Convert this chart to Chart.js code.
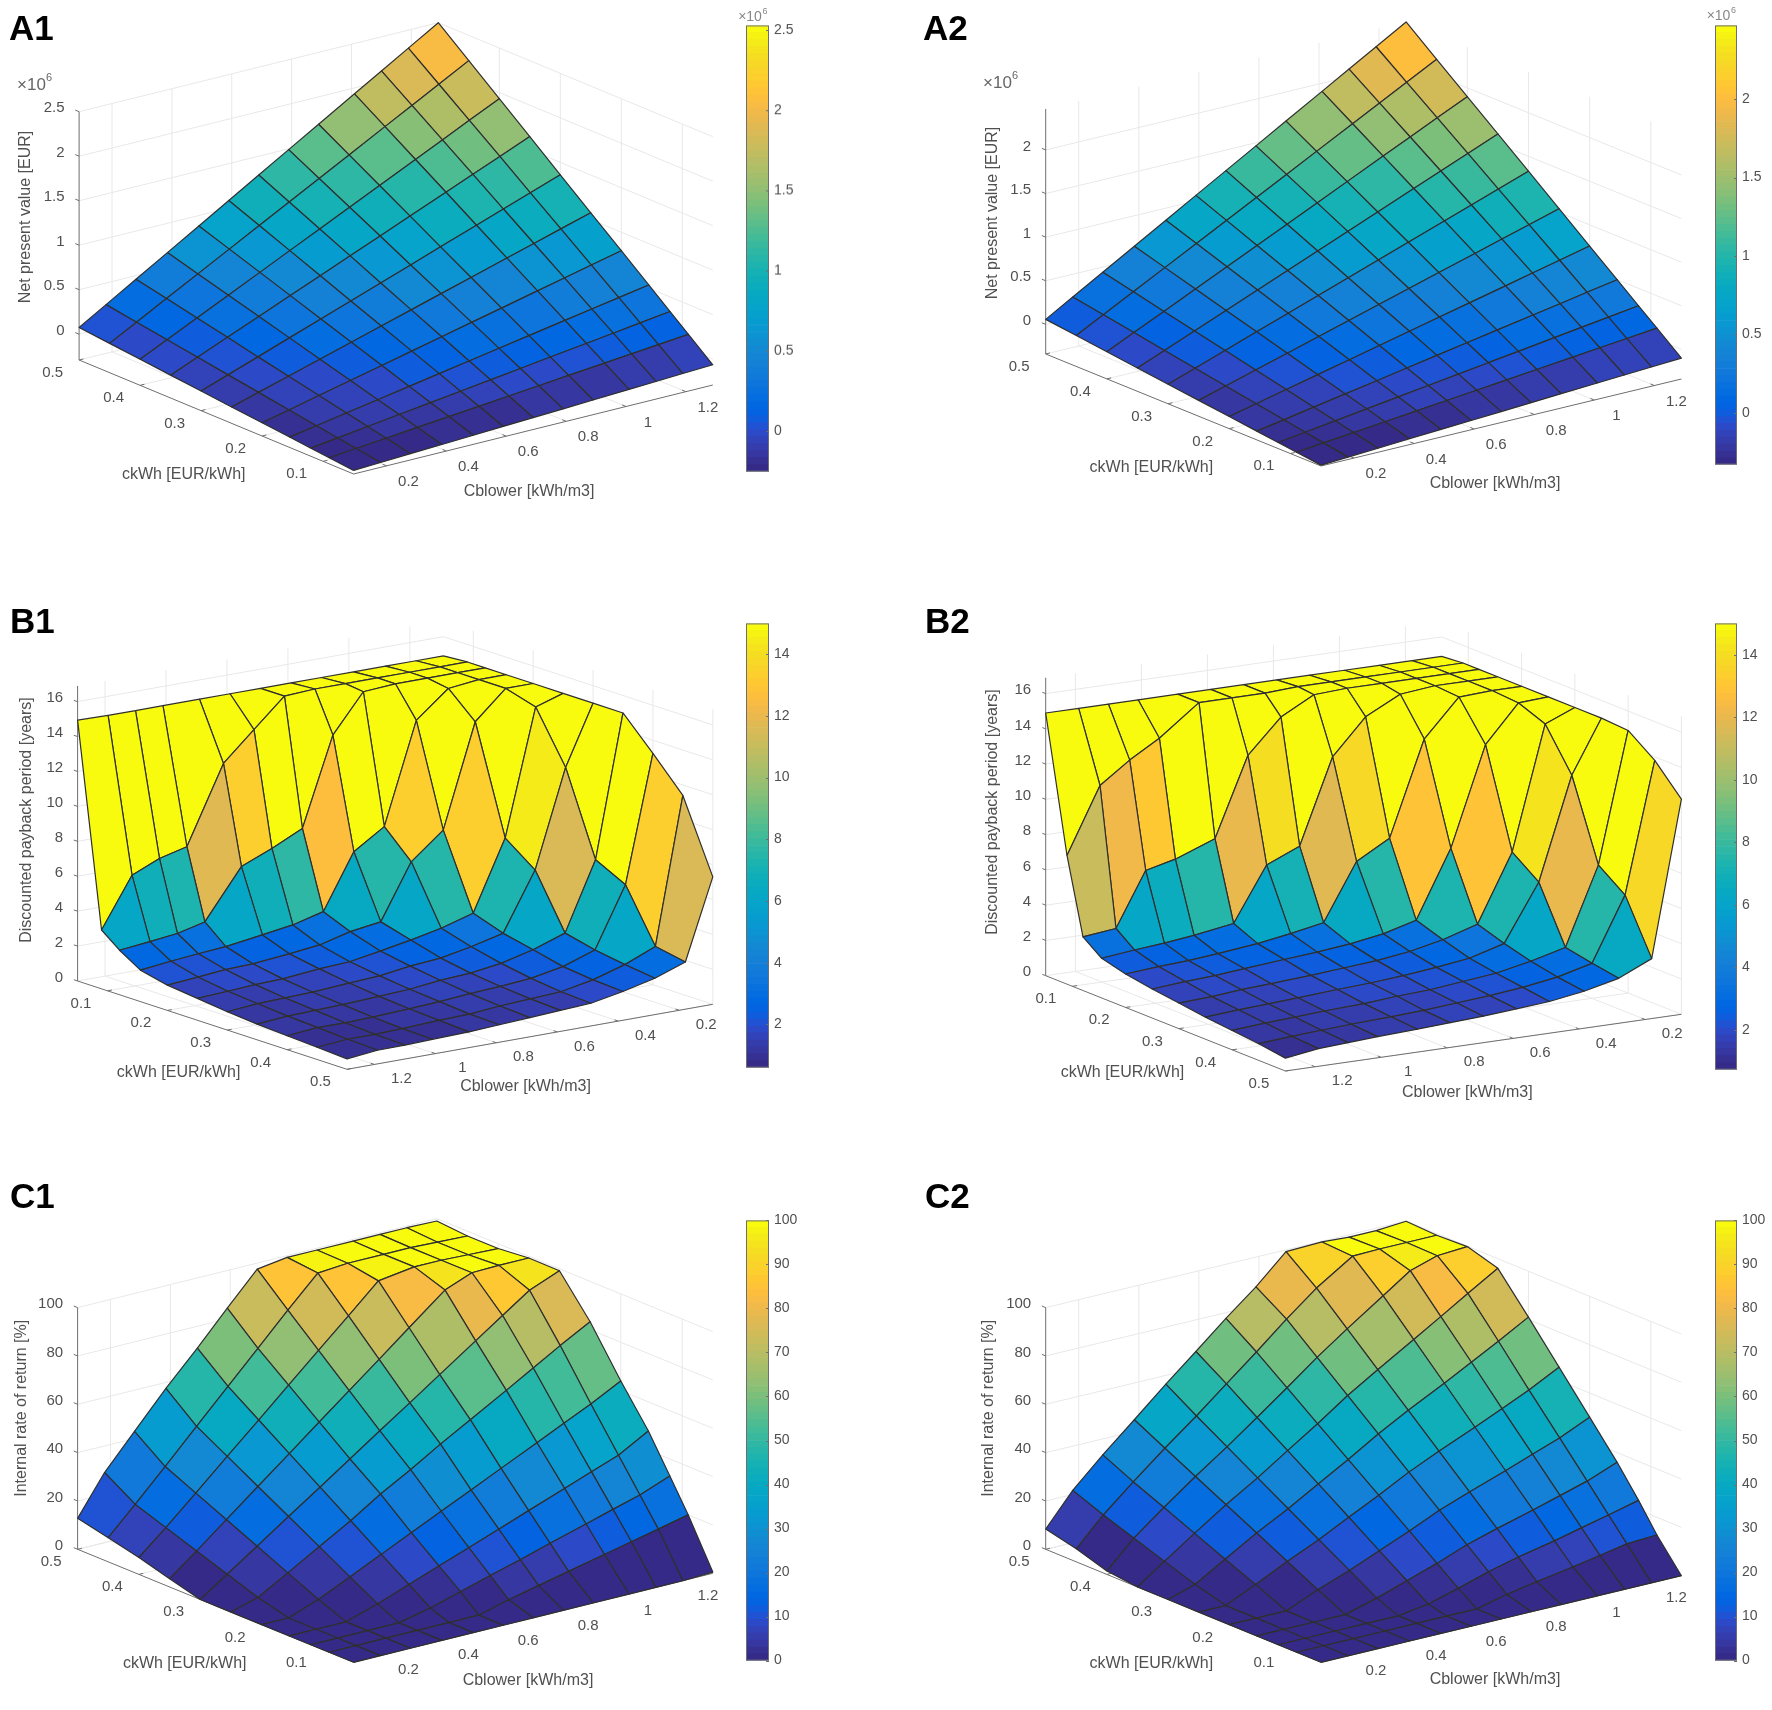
<!DOCTYPE html>
<html>
<head>
<meta charset="utf-8">
<title>Surface plots</title>
<script src="https://cdn.jsdelivr.net/npm/chart.js@4"></script>
<style>
  html, body { margin: 0; padding: 0; background: #fff; }
  #page { position: relative; width: 1772px; height: 1710px; overflow: hidden; }
  canvas { position: absolute; }
</style>
</head>
<body>
<div id="page"></div>
<script>
// grid of the surfaces
const ckWh = [0.05, 0.09, 0.12, 0.155, 0.2, 0.25, 0.3, 0.35, 0.4, 0.45, 0.5];
const cblower = [0.09, 0.18, 0.28, 0.385, 0.49, 0.59, 0.69, 0.79, 0.89, 1.01, 1.1, 1.19, 1.29];
const ckWhTicks = [0.1, 0.2, 0.3, 0.4, 0.5];
const cblowerTicks = [0.2, 0.4, 0.6, 0.8, 1, 1.2];

// net present value, x10^6 EUR. one row per ckWh, one column per cblower
const npvA1 = [
  [-0.25, -0.236, -0.22, -0.204, -0.188, -0.172, -0.156, -0.141, -0.125, -0.106, -0.092, -0.078, -0.063],
  [-0.221, -0.192, -0.16, -0.126, -0.092, -0.06, -0.028, 0.004, 0.037, 0.075, 0.104, 0.133, 0.165],
  [-0.199, -0.159, -0.114, -0.067, -0.021, 0.024, 0.069, 0.113, 0.158, 0.211, 0.251, 0.292, 0.336],
  [-0.174, -0.121, -0.062, 0, 0.062, 0.122, 0.181, 0.24, 0.299, 0.37, 0.423, 0.476, 0.535],
  [-0.142, -0.072, 0.006, 0.088, 0.169, 0.247, 0.325, 0.403, 0.48, 0.574, 0.644, 0.714, 0.792],
  [-0.106, -0.017, 0.081, 0.185, 0.288, 0.387, 0.485, 0.584, 0.682, 0.8, 0.889, 0.978, 1.076],
  [-0.07, 0.037, 0.156, 0.282, 0.407, 0.526, 0.645, 0.764, 0.884, 1.027, 1.134, 1.241, 1.36],
  [-0.033, 0.093, 0.233, 0.38, 0.527, 0.667, 0.807, 0.947, 1.087, 1.255, 1.381, 1.507, 1.647],
  [0.003, 0.148, 0.308, 0.477, 0.646, 0.807, 0.967, 1.128, 1.289, 1.481, 1.626, 1.771, 1.931],
  [0.039, 0.202, 0.384, 0.574, 0.765, 0.946, 1.127, 1.309, 1.49, 1.708, 1.871, 2.034, 2.216],
  [0.075, 0.257, 0.459, 0.671, 0.883, 1.086, 1.288, 1.49, 1.692, 1.934, 2.116, 2.298, 2.5]
];
const npvA2 = [
  [-0.33, -0.313, -0.294, -0.273, -0.253, -0.234, -0.215, -0.196, -0.176, -0.153, -0.136, -0.119, -0.1],
  [-0.296, -0.264, -0.229, -0.192, -0.154, -0.119, -0.084, -0.048, -0.013, 0.03, 0.062, 0.093, 0.129],
  [-0.27, -0.227, -0.18, -0.13, -0.08, -0.033, 0.015, 0.063, 0.11, 0.167, 0.21, 0.253, 0.3],
  [-0.24, -0.185, -0.123, -0.058, 0.006, 0.068, 0.13, 0.191, 0.253, 0.327, 0.382, 0.438, 0.499],
  [-0.201, -0.129, -0.049, 0.034, 0.118, 0.198, 0.278, 0.358, 0.437, 0.533, 0.605, 0.677, 0.757],
  [-0.158, -0.068, 0.032, 0.137, 0.242, 0.342, 0.442, 0.542, 0.642, 0.762, 0.852, 0.942, 1.042],
  [-0.115, -0.007, 0.114, 0.24, 0.366, 0.487, 0.607, 0.727, 0.847, 0.992, 1.1, 1.208, 1.329],
  [-0.072, 0.054, 0.195, 0.342, 0.49, 0.631, 0.771, 0.912, 1.052, 1.221, 1.347, 1.474, 1.614],
  [-0.029, 0.116, 0.276, 0.445, 0.614, 0.775, 0.935, 1.096, 1.257, 1.45, 1.594, 1.739, 1.899],
  [0.014, 0.177, 0.358, 0.548, 0.738, 0.919, 1.099, 1.28, 1.461, 1.678, 1.841, 2.004, 2.185],
  [0.057, 0.238, 0.439, 0.65, 0.861, 1.063, 1.264, 1.465, 1.666, 1.907, 2.088, 2.269, 2.47]
];

// discounted payback period, years
const paybackB1 = [
  [14.9, 14.9, 14.9, 14.9, 14.9, 14.9, 14.9, 14.9, 14.9, 14.9, 14.9, 14.9, 14.94],
  [15, 15, 15, 15, 15, 15, 14.9, 13.3, 11.67, 7.27, 6.88, 6.2, 3.37],
  [15, 15, 15, 15, 14.87, 12.7, 7.66, 6.83, 6.1, 3.3, 2.92, 2.73, 2.55],
  [15, 15, 14.8, 13.3, 7.54, 6.41, 3.29, 2.84, 2.58, 2.28, 2.15, 2, 1.8],
  [15, 15, 13.4, 7.52, 6.03, 2.9, 2.65, 2.2, 2, 1.8, 1.75, 1.6, 1.45],
  [15, 14.5, 7.3, 3.32, 2.79, 2.42, 2.1, 1.8, 1.7, 1.5, 1.45, 1.35, 1.25],
  [15, 11.6, 6.03, 2.73, 2.29, 1.95, 1.8, 1.55, 1.45, 1.3, 1.25, 1.2, 1.05],
  [15, 6.87, 2.98, 2.35, 1.9, 1.65, 1.55, 1.35, 1.25, 1.15, 1.1, 1.05, 0.9],
  [13.25, 6, 2.58, 1.95, 1.6, 1.45, 1.35, 1.2, 1.1, 1, 0.95, 0.95, 0.8],
  [11.4, 3.03, 2.3, 1.75, 1.4, 1.3, 1.2, 1.05, 1, 0.9, 0.85, 0.85, 0.7],
  [7.3, 2.7, 2.08, 1.65, 1.3, 1.2, 1.1, 1, 0.9, 0.85, 0.8, 0.78, 0.6]
];
const paybackB2 = [
  [14.9, 14.9, 14.9, 14.9, 14.9, 14.9, 14.9, 14.9, 14.9, 14.9, 14.9, 14.9, 14.9],
  [15, 15, 15, 15, 15, 15, 14.9, 14.9, 14.9, 13.2, 12.2, 11, 7.3],
  [15, 15, 15, 15, 15, 14.9, 13.9, 12, 7.54, 6.7, 6.3, 3.25, 3.04],
  [15, 15, 15, 14.8, 13.8, 11.8, 7, 6.2, 3.15, 2.8, 2.6, 2.45, 2.25],
  [15, 15, 14.9, 12.8, 7.45, 6.4, 3.2, 2.85, 2.55, 2.3, 2.15, 2.05, 1.9],
  [15, 14.9, 12.8, 7.2, 3.4, 2.9, 2.6, 2.4, 2.25, 2.05, 1.9, 1.8, 1.65],
  [15, 14.3, 7.3, 3.5, 2.9, 2.5, 2.25, 2.1, 1.95, 1.8, 1.7, 1.55, 1.45],
  [15, 12, 6.2, 3, 2.45, 2.2, 2, 1.85, 1.75, 1.6, 1.5, 1.4, 1.25],
  [14.9, 7.5, 3.1, 2.6, 2.2, 2, 1.8, 1.7, 1.55, 1.45, 1.35, 1.25, 1.1],
  [13.8, 6.4, 2.8, 2.3, 2, 1.8, 1.65, 1.5, 1.4, 1.3, 1.2, 1.1, 0.95],
  [12.2, 3.4, 2.55, 2.1, 1.8, 1.65, 1.5, 1.4, 1.3, 1.2, 1.1, 1, 0.73]
];

// internal rate of return, %
const irrC1 = [
  [0, 0, 0, 0, 0, 0, 0, 0, 0, 0, 0, 0, 0.5],
  [0, 0, 0, 0, 0, 0, 3.3, 6.1, 8.9, 12.2, 14.7, 17.2, 20],
  [0, 0, 0, 0, 2.9, 6.6, 10.2, 13.7, 17.4, 21.7, 25, 28.2, 33],
  [0, 0, 0, 4.2, 9, 13.6, 18.1, 22.7, 27.3, 32.8, 36.9, 41, 48],
  [0, 0, 4.6, 10.7, 16.8, 22.7, 28.5, 34.2, 40.1, 47, 52.3, 57.5, 64],
  [0, 3.3, 10.4, 18, 25.5, 33.5, 40.5, 48, 55, 63.5, 70, 76.5, 83.3],
  [0, 7.7, 16.2, 25.3, 34.2, 42.8, 51.4, 59.9, 68.5, 78.8, 86.5, 94.2, 99.2],
  [3.4, 12.1, 22, 32.5, 42.9, 52.9, 62.8, 72.7, 82.7, 94.6, 99, 99.3, 99.3],
  [7, 16.6, 27.8, 39.8, 51.6, 63, 74.3, 85.5, 96.9, 99, 99, 98.5, 98],
  [10, 21, 33.6, 47, 60.3, 73, 85.7, 98, 99, 99, 99, 98.5, 98],
  [12.8, 29, 43, 57.5, 71, 84.4, 97.5, 99.3, 99.3, 99.3, 99.3, 99.3, 99]
];
const irrC2 = [
  [0, 0, 0, 0, 0, 0, 0, 0, 0, 0, 0, 0, 0],
  [0, 0, 0, 0, 0, 0, 0, 3, 5.3, 7.8, 9.9, 12, 12.7],
  [0, 0, 0, 0, 0, 1.9, 5.4, 9.3, 12.4, 15.5, 18.2, 20.8, 23.9],
  [0, 0, 0, 0, 3.7, 7.9, 12.1, 16.8, 20.5, 24.6, 27.9, 31.2, 36],
  [0, 0, 0, 5.6, 10.5, 15.6, 20.8, 26.4, 31, 36.2, 40.3, 44.4, 50],
  [0, 0, 5.7, 12.1, 18, 24.3, 30.4, 37, 42.7, 49, 54, 59, 65.5],
  [0, 3.5, 11, 18.7, 25.6, 32.9, 40, 47.6, 54.4, 62, 68, 74, 81],
  [0, 7.9, 16.5, 25.2, 33.2, 41.5, 49.6, 58.3, 66, 74.9, 81.7, 88.6, 96],
  [1.4, 12.3, 22, 31.7, 40.8, 50, 59.3, 68.9, 77.7, 87.8, 95.5, 99, 99.8],
  [5.4, 16.7, 27.4, 38.2, 48.4, 58.7, 68.9, 79.5, 89.4, 99, 99.3, 99.3, 99.3],
  [8.4, 21.7, 33.4, 44.8, 56.4, 66.9, 77.6, 87.7, 99.3, 99.7, 99, 99, 99.9]
];

const npvTicksA1 = [0, 0.5, 1, 1.5, 2, 2.5];
const npvTicksA2 = [0, 0.5, 1, 1.5, 2];
const paybackAxisTicks = [0, 2, 4, 6, 8, 10, 12, 14, 16];
const paybackBarTicks = [2, 4, 6, 8, 10, 12, 14];
const irrAxisTicks = [0, 20, 40, 60, 80, 100];
const irrBarTicks = [0, 10, 20, 30, 40, 50, 60, 70, 80, 90, 100];

// MATLAB parula, 64 levels
const parula = [
  [.2081,.1663,.5292],[.2116,.1898,.5777],[.2123,.2138,.6270],[.2081,.2386,.6771],[.1959,.2645,.7279],[.1707,.2919,.7792],
  [.1253,.3242,.8303],[.0591,.3598,.8683],[.0117,.3875,.8820],[.0060,.4086,.8828],[.0165,.4266,.8786],[.0329,.4430,.8720],
  [.0498,.4586,.8641],[.0629,.4737,.8554],[.0723,.4887,.8467],[.0779,.5040,.8384],[.0793,.5200,.8312],[.0749,.5375,.8263],
  [.0641,.5570,.8240],[.0488,.5772,.8228],[.0343,.5966,.8199],[.0265,.6137,.8135],[.0239,.6287,.8038],[.0231,.6418,.7913],
  [.0228,.6535,.7768],[.0267,.6642,.7607],[.0384,.6743,.7436],[.0590,.6838,.7254],[.0843,.6928,.7062],[.1133,.7015,.6859],
  [.1453,.7098,.6646],[.1801,.7177,.6424],[.2178,.7250,.6193],[.2586,.7317,.5954],[.3022,.7376,.5712],[.3482,.7424,.5473],
  [.3953,.7459,.5244],[.4420,.7481,.5033],[.4871,.7491,.4840],[.5300,.7491,.4661],[.5709,.7485,.4494],[.6099,.7473,.4337],
  [.6473,.7456,.4188],[.6834,.7435,.4044],[.7184,.7411,.3905],[.7525,.7384,.3768],[.7858,.7356,.3633],[.8185,.7327,.3498],
  [.8507,.7299,.3360],[.8824,.7274,.3217],[.9139,.7258,.3063],[.9450,.7261,.2886],[.9739,.7314,.2666],[.9938,.7455,.2403],
  [.9990,.7653,.2164],[.9955,.7861,.1967],[.9880,.8066,.1794],[.9789,.8271,.1633],[.9697,.8481,.1475],[.9626,.8705,.1309],
  [.9589,.8949,.1132],[.9598,.9218,.0948],[.9661,.9514,.0755],[.9763,.9831,.0538]
];

const FONT = '"Liberation Sans", Arial, sans-serif';
const TEXT = '#505050';
const AXIS = '#6e6e6e';
const GRID = '#e8e8e8';
const EDGE = '#2f2f2f';

const npvLabel = 'Net present value [EUR]';
const paybackLabel = 'Discounted payback period [years]';
const irrLabel = 'Internal rate of return [%]';

// box = canvas area, left/front/right = floor corners of the 3d box on the page
const panels = [
  { name: 'A1', nameAt: [9, 40], box: [0, 0, 790, 520], flipped: false, z: npvA1, zTicks: npvTicksA1, zName: npvLabel,
    left: [79.1, 360], front: [353.6, 474], right: [712.8, 385], zMin: -0.29, zTop: 2.5, zPx: 89,
    zNameAt: [25.5, 217], cNameAt: [183.7, 475], bNameAt: [529, 491.7], expAt: [31.5, 85], barExpAt: [750, 16.7],
    bar: [746.4, 24, 22.5, 448.7], barRange: [-0.254, 2.527], barTicks: npvTicksA1 },
  { name: 'A2', nameAt: [923, 40], box: [890, 0, 860, 520], flipped: false, z: npvA2, zTicks: npvTicksA2, zName: npvLabel,
    left: [1045.7, 354], front: [1321, 466], right: [1681.4, 379], zMin: -0.34, zTop: 2.47, zPx: 87.2,
    zNameAt: [992.9, 213], cNameAt: [1151.4, 467.3], bNameAt: [1495, 483.3], expAt: [997.5, 83.3], barExpAt: [1718.5, 15.7],
    bar: [1714.8, 24, 21.2, 442], barRange: [-0.33, 2.47], barTicks: npvTicksA2 },
  { name: 'B1', nameAt: [10, 633], box: [0, 590, 790, 520], flipped: true, z: paybackB1, zTicks: paybackAxisTicks, zName: paybackLabel,
    left: [77.6, 981], front: [347, 1069.3], right: [712.8, 1004.3], zMin: 0, zTop: 16.9, zPx: 17.46,
    zNameAt: [26.5, 820], cNameAt: [178.6, 1073], bNameAt: [525.5, 1086.7],
    bar: [746.4, 621.7, 22.5, 447.6], barRange: [0.6, 15], barTicks: paybackBarTicks },
  { name: 'B2', nameAt: [925, 633], box: [890, 590, 860, 520], flipped: true, z: paybackB2, zTicks: paybackAxisTicks, zName: paybackLabel,
    left: [1045.7, 975.7], front: [1285.4, 1071], right: [1681.4, 1014.3], zMin: 0, zTop: 16.9, zPx: 17.63,
    zNameAt: [992.9, 812], cNameAt: [1122.5, 1072.3], bNameAt: [1467.3, 1092.7],
    bar: [1714.8, 621.7, 21.2, 449.3], barRange: [0.73, 15], barTicks: paybackBarTicks },
  { name: 'C1', nameAt: [10, 1208], box: [0, 1180, 790, 530], flipped: false, z: irrC1, zTicks: irrAxisTicks, zName: irrLabel,
    left: [77.6, 1549.3], front: [353.6, 1662.3], right: [712.8, 1573.3], zMin: 0, zTop: 100, zPx: 2.417,
    zNameAt: [21.4, 1408.3], cNameAt: [184.7, 1664], bNameAt: [528, 1680.7],
    bar: [746.4, 1219.3, 22.5, 443], barRange: [0, 100], barTicks: irrBarTicks },
  { name: 'C2', nameAt: [925, 1208], box: [890, 1180, 860, 530], flipped: false, z: irrC2, zTicks: irrAxisTicks, zName: irrLabel,
    left: [1045.7, 1549.3], front: [1321, 1662.3], right: [1681.4, 1575.7], zMin: 0, zTop: 100, zPx: 2.417,
    zNameAt: [989, 1408.3], cNameAt: [1151.4, 1664], bNameAt: [1495, 1680],
    bar: [1714.8, 1219.3, 21.2, 443], barRange: [0, 100], barTicks: irrBarTicks }
];

const page = document.getElementById('page');

function addCanvas(x, y, w, h) {
  const c = document.createElement('canvas');
  c.width = w;
  c.height = h;
  c.style.left = x + 'px';
  c.style.top = y + 'px';
  c.style.width = w + 'px';
  c.style.height = h + 'px';
  page.appendChild(c);
  return c;
}

function colorOf(v, range) {
  let k = Math.floor((v - range[0]) / (range[1] - range[0]) * parula.length);
  k = Math.max(0, Math.min(parula.length - 1, k));
  const p = parula[k];
  return 'rgb(' + Math.round(p[0] * 255) + ',' + Math.round(p[1] * 255) + ',' + Math.round(p[2] * 255) + ')';
}

// orthographic view, worked out from the three floor corners
function makeProjection(p) {
  const cMin = ckWh[0], cMax = ckWh[ckWh.length - 1];
  const bMin = cblower[0], bMax = cblower[cblower.length - 1];
  const cF = p.flipped ? cMax : cMin;
  const bF = p.flipped ? bMax : bMin;
  const vc = [(p.front[0] - p.left[0]) / (cF - (p.flipped ? cMin : cMax)), (p.front[1] - p.left[1]) / (cF - (p.flipped ? cMin : cMax))];
  const vb = [(p.front[0] - p.right[0]) / (bF - (p.flipped ? bMin : bMax)), (p.front[1] - p.right[1]) / (bF - (p.flipped ? bMin : bMax))];
  return function (c, b, z) {
    return {
      x: p.front[0] + (c - cF) * vc[0] + (b - bF) * vb[0],
      y: p.front[1] + (c - cF) * vc[1] + (b - bF) * vb[1] - (z - p.zMin) * p.zPx
    };
  };
}

function lineSet(a, b, color) {
  return { data: [a, b], showLine: true, borderColor: color, borderWidth: 1, pointRadius: 0, fill: false, clip: false };
}

function surfaceSets(p, project) {
  const sets = [];
  const rows = ckWh.length - 1, cols = cblower.length - 1;
  // back to front
  for (let a = 0; a < rows; a++) {
    for (let b = 0; b < cols; b++) {
      const i = p.flipped ? a : rows - 1 - a;
      const j = p.flipped ? b : cols - 1 - b;
      const pts = [
        project(ckWh[i], cblower[j], p.z[i][j]),
        project(ckWh[i + 1], cblower[j], p.z[i + 1][j]),
        project(ckWh[i + 1], cblower[j + 1], p.z[i + 1][j + 1]),
        project(ckWh[i], cblower[j + 1], p.z[i][j + 1]),
        project(ckWh[i], cblower[j], p.z[i][j])
      ];
      sets.push({
        data: pts, showLine: true, fill: 'shape', tension: 0,
        backgroundColor: colorOf(p.z[i][j], p.barRange),
        borderColor: EDGE, borderWidth: 1.2, borderJoinStyle: 'round', pointRadius: 0, clip: false
      });
    }
  }
  return sets;
}

function boxSets(p, project) {
  const sets = [];
  const cMin = ckWh[0], cMax = ckWh[ckWh.length - 1];
  const bMin = cblower[0], bMax = cblower[cblower.length - 1];
  const cBack = p.flipped ? cMin : cMax, cFront = p.flipped ? cMax : cMin;
  const bBack = p.flipped ? bMin : bMax, bFront = p.flipped ? bMax : bMin;

  // grid on the walls and the floor
  p.zTicks.forEach(z => {
    sets.push(lineSet(project(cBack, bFront, z), project(cBack, bBack, z), GRID));
    sets.push(lineSet(project(cBack, bBack, z), project(cFront, bBack, z), GRID));
  });
  cblowerTicks.forEach(b => {
    sets.push(lineSet(project(cBack, b, p.zMin), project(cBack, b, p.zTop), GRID));
    sets.push(lineSet(project(cFront, b, p.zMin), project(cBack, b, p.zMin), GRID));
  });
  ckWhTicks.forEach(c => {
    sets.push(lineSet(project(c, bBack, p.zMin), project(c, bBack, p.zTop), GRID));
    sets.push(lineSet(project(c, bFront, p.zMin), project(c, bBack, p.zMin), GRID));
  });

  // axes and their ticks
  sets.push(lineSet(project(cBack, bFront, p.zMin), project(cFront, bFront, p.zMin), AXIS));
  sets.push(lineSet(project(cFront, bFront, p.zMin), project(cFront, bBack, p.zMin), AXIS));
  sets.push(lineSet(project(cBack, bFront, p.zMin), project(cBack, bFront, p.zTop), AXIS));
  const db = (bBack - bFront) * 0.012, dc = (cBack - cFront) * 0.014;
  ckWhTicks.forEach(c => sets.push(lineSet(project(c, bFront, p.zMin), project(c, bFront + db, p.zMin), AXIS)));
  cblowerTicks.forEach(b => sets.push(lineSet(project(cFront, b, p.zMin), project(cFront + dc, b, p.zMin), AXIS)));
  p.zTicks.forEach(z => sets.push(lineSet(project(cBack, bFront, z), project(cBack + dc, bFront, z), AXIS)));
  return sets;
}

const panelText = {
  id: 'panelText',
  afterDraw(chart, args, opts) {
    const p = opts.panel, project = opts.project, ctx = chart.ctx;
    const px = chart.scales.x, py = chart.scales.y;
    const put = (s, x, y, font, align) => {
      ctx.font = font;
      ctx.textAlign = align || 'center';
      ctx.fillText(s, px.getPixelForValue(x), py.getPixelForValue(y));
    };
    const cBack = p.flipped ? ckWh[0] : ckWh[ckWh.length - 1];
    const cFront = p.flipped ? ckWh[ckWh.length - 1] : ckWh[0];
    const bFront = p.flipped ? cblower[cblower.length - 1] : cblower[0];
    const tickFont = '15px ' + FONT;
    const nameFont = '16px ' + FONT;

    ctx.save();
    ctx.textBaseline = 'middle';
    ctx.fillStyle = TEXT;
    ckWhTicks.forEach(c => {
      const t = project(c, bFront, p.zMin);
      put(String(c), t.x - 26.5, t.y + 12.8, tickFont);
    });
    cblowerTicks.forEach(b => {
      const t = project(cFront, b, p.zMin);
      put(String(b), t.x + (p.flipped ? 27 : 22), t.y + (p.flipped ? 14.5 : 16), tickFont);
    });
    p.zTicks.forEach(z => {
      const t = project(cBack, bFront, z);
      put(String(z), t.x - 14.5, t.y - 3.5, tickFont, 'right');
    });
    put('ckWh [EUR/kWh]', p.cNameAt[0], p.cNameAt[1], nameFont);
    put('Cblower [kWh/m3]', p.bNameAt[0], p.bNameAt[1], nameFont);

    ctx.save();
    ctx.translate(px.getPixelForValue(p.zNameAt[0]), py.getPixelForValue(p.zNameAt[1]));
    ctx.rotate(-Math.PI / 2);
    ctx.font = nameFont;
    ctx.textAlign = 'center';
    ctx.fillText(p.zName, 0, 0);
    ctx.restore();

    if (p.expAt) {
      ctx.fillStyle = '#666';
      put('\u00d710', p.expAt[0], p.expAt[1], '17px ' + FONT);
      put('6', p.expAt[0] + 17.5, p.expAt[1] - 7, '11px ' + FONT);
      ctx.fillStyle = '#888';
      put('\u00d710', p.barExpAt[0], p.barExpAt[1], '14px ' + FONT);
      put('6', p.barExpAt[0] + 15, p.barExpAt[1] - 5, '9px ' + FONT);
    }

    ctx.fillStyle = '#000';
    ctx.textBaseline = 'alphabetic';
    put(p.name, p.nameAt[0], p.nameAt[1], 'bold 35px ' + FONT, 'left');
    ctx.restore();
  }
};

function drawPanel(p) {
  const project = makeProjection(p);
  const [x, y, w, h] = p.box;
  const canvas = addCanvas(x, y, w, h);
  // first dataset ends up on top, so reverse the back to front list
  const sets = boxSets(p, project).concat(surfaceSets(p, project)).reverse();
  new Chart(canvas, {
    type: 'scatter',
    data: { datasets: sets },
    options: {
      responsive: false,
      animation: false,
      layout: { padding: 0 },
      scales: {
        x: { type: 'linear', display: false, min: x, max: x + w },
        y: { type: 'linear', display: false, min: y, max: y + h, reverse: true }
      },
      plugins: {
        legend: { display: false },
        tooltip: { enabled: false },
        panelText: { panel: p, project: project }
      }
    },
    plugins: [panelText]
  });
}

const barFrame = {
  id: 'barFrame',
  afterDraw(chart) {
    const a = chart.chartArea, s = chart.scales.y, ctx = chart.ctx;
    ctx.save();
    ctx.strokeStyle = '#6e6e6e';
    ctx.lineWidth = 1;
    ctx.strokeRect(a.left + 0.5, a.top + 0.5, a.right - a.left - 1, a.bottom - a.top - 1);
    s.ticks.forEach(t => {
      const yy = Math.round(s.getPixelForValue(t.value)) + 0.5;
      ctx.beginPath();
      ctx.moveTo(a.right - 3, yy);
      ctx.lineTo(a.right, yy);
      ctx.stroke();
    });
    ctx.restore();
  }
};

function drawColorbar(p) {
  const [x, y, w, h] = p.bar;
  const margin = 12, axisWidth = 42;
  const canvas = addCanvas(x, y - margin, Math.ceil(w) + axisWidth, h + margin * 2);
  const [lo, hi] = p.barRange;
  const sets = parula.map((c, k) => {
    const from = lo + (hi - lo) * k / parula.length;
    const to = lo + (hi - lo) * (k + 1) / parula.length;
    return { data: [[from, to]], backgroundColor: colorOf((from + to) / 2, p.barRange), borderWidth: 0, barPercentage: 1, categoryPercentage: 1 };
  });
  new Chart(canvas, {
    type: 'bar',
    data: { labels: [''], datasets: sets },
    options: {
      responsive: false,
      animation: false,
      layout: { padding: { top: margin, bottom: margin, left: 0, right: 0 } },
      scales: {
        x: { display: false, stacked: true },
        y: {
          position: 'right', min: lo, max: hi,
          grid: { display: false, drawTicks: false },
          border: { display: false },
          afterBuildTicks: s => { s.ticks = p.barTicks.map(v => ({ value: v })); },
          afterFit: s => { s.width = axisWidth; },
          ticks: {
            color: TEXT, padding: 5, autoSkip: false, maxRotation: 0,
            font: { family: FONT, size: 14 },
            callback: v => String(v)
          }
        }
      },
      plugins: { legend: { display: false }, tooltip: { enabled: false } }
    },
    plugins: [barFrame]
  });
}

panels.forEach(p => {
  drawPanel(p);
  drawColorbar(p);
});
</script>
</body>
</html>
